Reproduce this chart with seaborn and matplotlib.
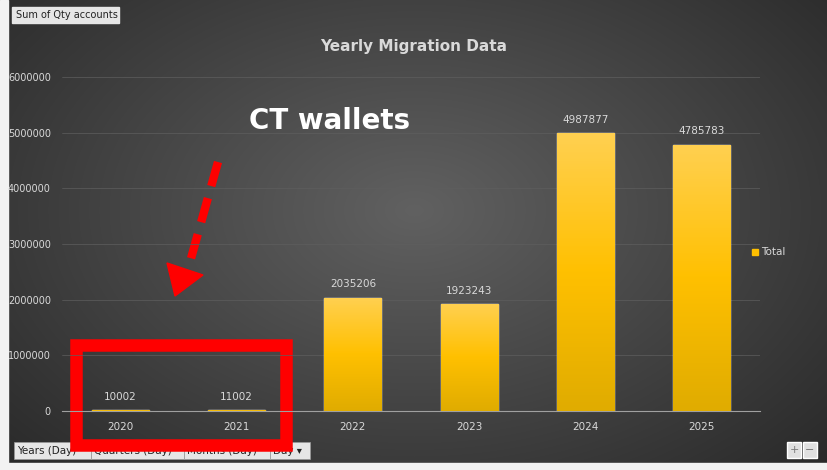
import numpy as np
import matplotlib
matplotlib.use("Agg")
import matplotlib.pyplot as plt
import seaborn as sns
import pandas as pd
from matplotlib.patches import Rectangle, Polygon
from matplotlib.colors import LinearSegmentedColormap

years = ["2020", "2021", "2022", "2023", "2024", "2025"]
totals = [10002, 11002, 2035206, 1923243, 4987877, 4785783]
yticks = [0, 1000000, 2000000, 3000000, 4000000, 5000000, 6000000]

sns.set_style("white")
plt.rcParams['font.family'] = ['DejaVu Sans']

W, H = 828, 470
fig = plt.figure(figsize=(8.28, 4.70), dpi=100)

bg = fig.add_axes([0, 0, 1, 1], zorder=-10)
yy, xx = np.mgrid[0:H, 0:W]
r = np.sqrt(((xx - 414) / 520.0) ** 2 + ((yy - 210) / 340.0) ** 2)
v = np.clip(0.38 - 0.2 * r, 0.15, 0.38)
bg.imshow(np.dstack([v, v, v]), extent=[0, W, H, 0], aspect="auto")
bg.set_xlim(0, W); bg.set_ylim(H, 0); bg.axis("off")
bg.add_patch(Rectangle((0, 0), 8, H, color="#f2f2f2"))
bg.add_patch(Rectangle((0, 463), W, 7, color="#f2f2f2"))

ax = fig.add_axes([62 / W, 1 - 411 / H, (760 - 62) / W, (411 - 77) / H])
df = pd.DataFrame({"Year": years, "Total": totals})
sns.barplot(data=df, x="Year", y="Total", color="#FFC000", width=0.49, ax=ax, zorder=3)
ax.set_facecolor("none")
ax.set_ylim(0, 6000000)
ax.set_yticks(yticks)
ax.set_yticklabels([str(t) for t in yticks], color="#d9d9d9", fontsize=7)
ax.tick_params(axis="x", colors="#d9d9d9", labelsize=7.5, length=0, pad=8)
ax.tick_params(axis="y", length=0, pad=8)
ax.set_xlabel(""); ax.set_ylabel("")
ax.grid(axis="y", color="#5e5e5e", linewidth=0.5, zorder=0)
for s in ["top", "right", "left"]:
    ax.spines[s].set_visible(False)
ax.spines["bottom"].set_color("#a0a0a0")

grad = np.linspace(0, 1, 100).reshape(-1, 1)
cmap = LinearSegmentedColormap.from_list("g", ["#E0AC00", "#FFC000", "#FFD050"])
for p in ax.patches:
    x0, w, h = p.get_x(), p.get_width(), p.get_height()
    im = ax.imshow(grad, extent=[x0, x0 + w, 0, h], origin="lower", cmap=cmap,
                   aspect="auto", zorder=4)
    im.set_clip_path(p)
ax.set_xlim(-0.5, 5.5)
for i, t in enumerate(totals):
    ax.text(i, t + 150000, str(t), ha="center", va="bottom", color="#d9d9d9", fontsize=7.5, zorder=5)

fig.text(414 / W, 1 - 47 / H, "Yearly Migration Data", ha="center", va="center",
         color="#d9d9d9", fontsize=11, fontweight="bold")
fig.text(330 / W, 1 - 121 / H, "CT wallets", ha="center", va="center",
         color="white", fontsize=20, fontweight="bold")

bg.add_patch(Rectangle((752, 249), 6, 6, color="#FFC000"))
bg.text(761, 252, "Total", color="#d9d9d9", fontsize=7.5, va="center")

bg.add_patch(Rectangle((76, 345), 210, 100, fill=False, edgecolor="#ff0000", linewidth=9, zorder=20))
bg.plot([218, 190], [162, 262], color="#ff0000", linewidth=6, linestyle=(0, (3, 1.5)),
        solid_capstyle="butt", zorder=20)
bg.add_patch(Polygon([(175, 296), (167, 263), (203, 275)], closed=True, color="#ff0000", zorder=20))

bg.add_patch(Rectangle((12, 7), 107, 16, color="#e6e6e6", zorder=15))
bg.text(16, 15, "Sum of Qty accounts", fontsize=7, color="#222", va="center", zorder=16)
for x0, w, lab in [(14, 77, "Years (Day)"), (91, 93, "Quarters (Day)"), (184, 86, "Months (Day)"), (270, 40, "Day ▾")]:
    bg.add_patch(Rectangle((x0, 442), w, 17, facecolor="#e6e6e6", edgecolor="#999", linewidth=0.5, zorder=15))
    bg.text(x0 + 3, 451, lab, fontsize=7.5, color="#222", va="center", zorder=16)
for x0, lab in [(787, "+"), (803, "−")]:
    bg.add_patch(Rectangle((x0, 442), 14, 16, facecolor="#e0e0e0", zorder=15))
    bg.text(x0 + 7, 450, lab, fontsize=8, color="#777", ha="center", va="center", zorder=16)

fig.savefig("out.png", dpi=100)
